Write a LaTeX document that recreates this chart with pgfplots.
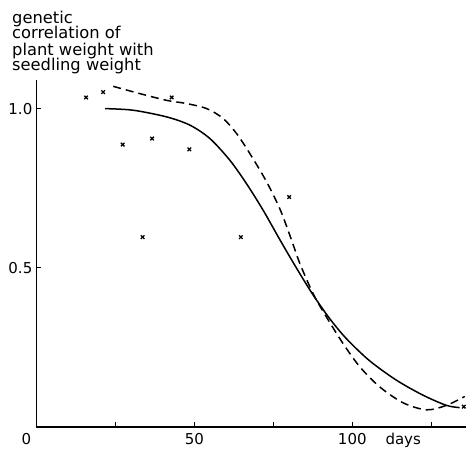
\documentclass[border=0pt]{standalone}
\usepackage{pgfplots}
\pgfplotsset{compat=1.18}
\usepackage{fontspec}
\setmainfont{DejaVu Sans}
\newcommand{\lbl}{\fontsize{15}{18}\selectfont}
\newcommand{\ttl}{\fontsize{16.3}{18}\selectfont}
\begin{document}
\begin{tikzpicture}
\path[use as bounding box] (-36.5pt,-21pt) rectangle (431.5pt,427pt);
\begin{axis}[
  at={(0,0)}, anchor=south west,
  scale only axis, width=429.5pt, height=347pt,
  xmin=0, xmax=136, ymin=0, ymax=1.091,
  axis x line=bottom, axis y line=left,
  axis line style={-, line width=1.2pt},
  xtick={25,50,75,100,125}, xticklabels={,50,,100,},
  ytick={0.5,1.0}, yticklabels={0.5,1.0},
  tick align=inside, major tick length=5pt,
  tick style={line width=1pt, black},
  tick label style={font=\lbl},
  xticklabel style={inner sep=0pt, yshift=-6pt},
  yticklabel style={inner sep=0pt, xshift=-4pt},
  /pgf/number format/assume math mode=true,
  clip=false,
]
\addplot[black, line width=1.5pt, smooth, tension=0.5] coordinates {
(21.7,1.001)(30.6,0.996)(41.2,0.975)(48.6,0.949)(54.9,0.907)(61.2,0.839)
(66.5,0.765)(71.8,0.681)(77.0,0.590)(82.3,0.500)(87.6,0.415)(92.9,0.340)
(98.2,0.277)(105.5,0.208)(114.0,0.147)(122.4,0.100)(129.8,0.068)(134.0,0.061)
};
\addplot[black, line width=1.5pt, smooth, tension=0.5, dash pattern=on 8pt off 5pt] coordinates {
(24.3,1.071)(32.8,1.048)(41.2,1.027)(47.5,1.017)(53.9,1.001)(59.1,0.970)
(63.4,0.922)(67.6,0.859)(72.8,0.772)(77.1,0.685)(80.5,0.595)(83.4,0.514)
(87.6,0.419)(91.8,0.346)(97.1,0.262)(102.4,0.189)(108.7,0.126)(116.1,0.076)
(123.5,0.054)(129.8,0.068)(135.6,0.096)
};
\addplot[only marks, mark=x, mark size=2.5pt, mark options={line width=1.3pt, black}] coordinates {
(15.7,1.036)(21.1,1.053)(27.3,0.888)(33.6,0.597)(36.6,0.907)(42.8,1.036)
(48.4,0.873)(64.7,0.597)(80.0,0.723)(135.3,0.064)
};
\node[anchor=north, font=\lbl, inner sep=0pt] at (axis cs:0,0) [xshift=-10pt, yshift=-6pt] {0};
\node[anchor=north west, font=\lbl, inner sep=0pt] at (axis cs:100,0) [xshift=33pt, yshift=-6pt] {days};
\end{axis}
\node[anchor=base west, font=\ttl, inner sep=0pt] at (-24.5pt,403.3pt) {genetic};
\node[anchor=base west, font=\ttl, inner sep=0pt] at (-24.5pt,388.3pt) {correlation of};
\node[anchor=base west, font=\ttl, inner sep=0pt] at (-24.5pt,371.7pt) {plant weight with};
\node[anchor=base west, font=\ttl, inner sep=0pt] at (-24.5pt,356pt) {seedling weight};
\end{tikzpicture}
\end{document}
